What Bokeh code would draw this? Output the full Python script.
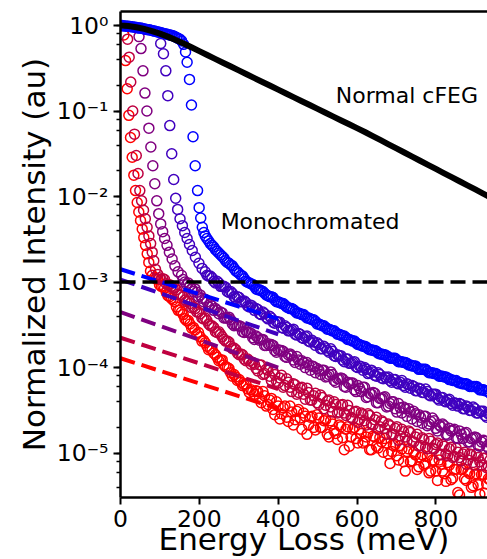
import numpy as np
from bokeh.plotting import figure
from bokeh.models import (Range1d, LinearAxis, Label, CustomJSTickFormatter,
                          FixedTicker, LogTicker)
from bokeh.embed import file_html
from bokeh.resources import INLINE

# ---------------- data (energies in meV, intensities as log10) ----------------
E_TAIL = [round(86.0 + 4.3 * j, 1) for j in range(199)]   # spectrum sampling grid of the tails

RED_PEAK_E = [8.5, 12.8, 17.0, 21.2, 25.4, 29.7, 33.8, 38.1, 42.4, 46.4, 50.8,
              55.1, 59.1, 63.5, 67.8, 71.8, 76.1, 80.5]
RED_PEAK_LOG10 = [-0.11, -0.41, -0.74, -1.05, -1.31, -1.54, -1.75, -1.93, -2.07,
                  -2.18, -2.28, -2.38, -2.48, -2.57, -2.67, -2.77, -2.87, -2.92]
RED_TAIL_LOG10 = [
    -2.95, -2.96, -2.97, -3.03, -3.05, -3.05, -3.07, -3.12, -3.16, -3.17,
    -3.19, -3.21, -3.23, -3.29, -3.33, -3.33, -3.35, -3.38, -3.43, -3.45,
    -3.45, -3.49, -3.54, -3.53, -3.56, -3.61, -3.59, -3.64, -3.69, -3.68,
    -3.71, -3.75, -3.79, -3.78, -3.79, -3.83, -3.85, -3.88, -3.92, -3.91,
    -3.91, -3.97, -3.99, -4.00, -4.01, -4.06, -4.10, -4.08, -4.11, -4.15,
    -4.14, -4.17, -4.21, -4.20, -4.19, -4.25, -4.29, -4.26, -4.28, -4.31,
    -4.27, -4.28, -4.36, -4.41, -4.28, -4.33, -4.45, -4.43, -4.38, -4.36,
    -4.49, -4.55, -4.40, -4.45, -4.60, -4.54, -4.47, -4.45, -4.58, -4.63,
    -4.45, -4.52, -4.67, -4.61, -4.51, -4.49, -4.59, -4.72, -4.53, -4.57,
    -4.78, -4.67, -4.58, -4.57, -4.70, -4.73, -4.55, -4.59, -4.70, -4.70,
    -4.62, -4.61, -4.78, -4.81, -4.62, -4.66, -4.74, -4.77, -4.84, -4.67,
    -4.69, -4.82, -4.96, -4.72, -4.69, -4.92, -4.81, -4.72, -4.70, -4.83,
    -4.88, -4.72, -4.77, -4.88, -4.86, -4.81, -4.76, -4.96, -4.96, -4.80,
    -4.81, -4.92, -4.94, -4.82, -4.87, -4.99, -4.83, -4.88, -5.01, -5.12,
    -4.98, -4.91, -4.90, -5.03, -5.08, -4.91, -4.95, -5.10, -5.21, -4.98,
    -4.95, -5.10, -5.09, -4.99, -5.02, -5.19, -5.16, -5.05, -5.02, -5.14,
    -5.12, -5.04, -5.23, -5.21, -5.08, -5.09, -5.21, -5.32, -5.08, -5.13,
    -5.21, -5.24, -5.33, -5.11, -5.14, -5.31, -5.29, -5.19, -5.19, -5.46,
    -5.49, -5.19, -5.18, -5.30, -5.32, -5.22, -5.24, -5.40, -5.38, -5.25,
    -5.24, -5.37, -5.48, -5.25, -5.25, -5.47, -5.36, -5.30, -5.31]

CRIMSON_PEAK_E = [18.0, 22.0, 26.0, 31.0, 35.5, 40.0, 44.5, 49.0, 53.5, 58.5,
                  63.0, 67.5, 72.0, 76.5, 80.5, 84.5, 88.8]
CRIMSON_PEAK_LOG10 = [-0.16, -0.37, -0.66, -1.00, -1.27, -1.52, -1.73, -1.93,
                      -2.05, -2.16, -2.26, -2.36, -2.46, -2.55, -2.65, -2.75, -2.85]
CRIMSON_TAIL_LOG10 = [
    -2.91, -2.95, -2.97, -2.96, -2.97, -3.02, -3.03, -3.03, -3.05, -3.07,
    -3.06, -3.09, -3.14, -3.15, -3.15, -3.17, -3.21, -3.23, -3.22, -3.25,
    -3.30, -3.29, -3.31, -3.35, -3.35, -3.37, -3.42, -3.43, -3.42, -3.45,
    -3.49, -3.51, -3.51, -3.53, -3.58, -3.59, -3.58, -3.61, -3.64, -3.67,
    -3.69, -3.69, -3.70, -3.75, -3.78, -3.77, -3.79, -3.83, -3.85, -3.84,
    -3.85, -3.90, -3.92, -3.90, -3.92, -3.96, -3.94, -3.96, -4.01, -4.04,
    -3.97, -3.97, -4.08, -4.07, -4.02, -4.03, -4.10, -4.15, -4.04, -4.08,
    -4.16, -4.18, -4.12, -4.09, -4.23, -4.21, -4.13, -4.17, -4.23, -4.28,
    -4.19, -4.20, -4.31, -4.29, -4.24, -4.23, -4.31, -4.37, -4.24, -4.29,
    -4.38, -4.38, -4.33, -4.30, -4.41, -4.43, -4.32, -4.35, -4.48, -4.44,
    -4.39, -4.38, -4.46, -4.52, -4.40, -4.43, -4.53, -4.52, -4.44, -4.43,
    -4.53, -4.56, -4.44, -4.50, -4.58, -4.60, -4.52, -4.51, -4.64, -4.61,
    -4.53, -4.55, -4.62, -4.67, -4.54, -4.56, -4.66, -4.67, -4.61, -4.58,
    -4.72, -4.69, -4.62, -4.64, -4.71, -4.78, -4.66, -4.68, -4.78, -4.78,
    -4.71, -4.69, -4.85, -4.80, -4.72, -4.75, -4.81, -4.86, -4.74, -4.76,
    -4.86, -4.87, -4.81, -4.78, -4.92, -4.91, -4.82, -4.84, -4.93, -4.95,
    -4.83, -4.86, -4.94, -4.95, -4.90, -4.88, -5.02, -5.02, -4.90, -4.92,
    -5.01, -5.03, -4.95, -4.93, -5.05, -5.04, -4.94, -4.99, -5.05, -5.09,
    -5.01, -4.99, -5.13, -5.08, -5.01, -5.02, -5.11, -5.14, -5.01, -5.05,
    -5.10, -5.14, -5.06, -5.06, -5.17, -5.15, -5.08]

PURPLE_PEAK_E = [47, 52, 57, 62, 67, 72, 77, 82, 87, 92, 97, 102, 107, 112,
                 118, 124, 131, 138, 146]
PURPLE_PEAK_LOG10 = [-0.13, -0.27, -0.53, -0.79, -1.00, -1.20, -1.42, -1.64,
                     -1.85, -2.05, -2.20, -2.32, -2.41, -2.49, -2.57, -2.65,
                     -2.73, -2.81, -2.88]
PURPLE_TAIL_LOG10 = [
    -2.92, -2.97, -3.00, -3.03, -3.01, -3.04, -3.08, -3.11, -3.08, -3.12,
    -3.17, -3.15, -3.19, -3.23, -3.20, -3.23, -3.29, -3.26, -3.28, -3.33,
    -3.31, -3.33, -3.37, -3.35, -3.36, -3.42, -3.42, -3.42, -3.41, -3.44,
    -3.49, -3.51, -3.50, -3.51, -3.51, -3.52, -3.58, -3.59, -3.57, -3.59,
    -3.59, -3.60, -3.65, -3.67, -3.63, -3.65, -3.68, -3.67, -3.67, -3.74,
    -3.74, -3.72, -3.74, -3.73, -3.74, -3.80, -3.82, -3.79, -3.80, -3.80,
    -3.81, -3.87, -3.88, -3.85, -3.84, -3.86, -3.91, -3.94, -3.87, -3.91,
    -3.96, -3.92, -3.94, -4.00, -3.94, -3.97, -4.03, -3.98, -3.99, -4.06,
    -4.01, -4.03, -4.08, -4.03, -4.03, -4.11, -4.10, -4.08, -4.05, -4.08,
    -4.15, -4.17, -4.13, -4.13, -4.12, -4.13, -4.22, -4.23, -4.17, -4.19,
    -4.18, -4.18, -4.26, -4.28, -4.21, -4.24, -4.28, -4.23, -4.23, -4.35,
    -4.34, -4.30, -4.31, -4.29, -4.30, -4.41, -4.41, -4.36, -4.36, -4.35,
    -4.34, -4.46, -4.45, -4.42, -4.40, -4.40, -4.48, -4.52, -4.42, -4.47,
    -4.53, -4.46, -4.48, -4.57, -4.48, -4.52, -4.60, -4.51, -4.54, -4.63,
    -4.55, -4.58, -4.65, -4.57, -4.57, -4.68, -4.66, -4.63, -4.59, -4.62,
    -4.71, -4.74, -4.67, -4.69, -4.66, -4.68, -4.78, -4.79, -4.71, -4.74,
    -4.73, -4.72, -4.82, -4.83, -4.74, -4.78, -4.83, -4.77, -4.76, -4.87,
    -4.87, -4.83, -4.82, -4.81, -4.82, -4.91, -4.92, -4.87, -4.85, -4.86,
    -4.92, -4.94, -4.88]

INDIGO_PEAK_E = [102, 109, 115, 120, 125, 130, 135, 140, 145, 151, 157, 163,
                 169, 175, 182, 190, 199, 207]
INDIGO_PEAK_LOG10 = [-0.21, -0.33, -0.53, -0.82, -1.17, -1.50, -1.80, -2.02,
                     -2.15, -2.26, -2.34, -2.42, -2.49, -2.56, -2.63, -2.71,
                     -2.78, -2.84]
INDIGO_TAIL_LOG10 = [
    -2.88, -2.92, -2.93, -2.93, -2.95, -2.99, -3.01, -2.99, -3.01, -3.05,
    -3.05, -3.05, -3.06, -3.11, -3.12, -3.11, -3.13, -3.17, -3.19, -3.17,
    -3.18, -3.23, -3.23, -3.22, -3.24, -3.28, -3.29, -3.27, -3.29, -3.33,
    -3.31, -3.32, -3.37, -3.38, -3.35, -3.37, -3.41, -3.43, -3.40, -3.42,
    -3.47, -3.48, -3.46, -3.47, -3.47, -3.53, -3.54, -3.51, -3.53, -3.57,
    -3.57, -3.56, -3.55, -3.61, -3.62, -3.60, -3.61, -3.65, -3.66, -3.64,
    -3.63, -3.69, -3.70, -3.68, -3.70, -3.74, -3.71, -3.73, -3.78, -3.78,
    -3.75, -3.77, -3.80, -3.82, -3.78, -3.81, -3.86, -3.87, -3.85, -3.86,
    -3.86, -3.91, -3.93, -3.90, -3.90, -3.95, -3.95, -3.94, -3.93, -3.99,
    -4.00, -3.98, -3.99, -4.03, -4.00, -4.02, -4.07, -4.06, -4.03, -4.05,
    -4.09, -4.10, -4.06, -4.08, -4.12, -4.13, -4.11, -4.12, -4.11, -4.15,
    -4.17, -4.14, -4.14, -4.18, -4.19, -4.17, -4.15, -4.21, -4.23, -4.19,
    -4.20, -4.24, -4.21, -4.22, -4.27, -4.27, -4.24, -4.25, -4.29, -4.29,
    -4.25, -4.28, -4.32, -4.33, -4.31, -4.31, -4.31, -4.36, -4.38, -4.35,
    -4.35, -4.39, -4.40, -4.38, -4.37, -4.42, -4.44, -4.41, -4.42, -4.45,
    -4.42, -4.43, -4.48, -4.48, -4.45, -4.46, -4.50, -4.50, -4.46, -4.48,
    -4.53, -4.53, -4.51, -4.51, -4.51, -4.56, -4.58, -4.54, -4.54]

BLUE_PEAK_E = [0.0, 4.3, 8.6, 12.9, 17.2, 21.5, 25.8, 30.1, 34.4, 38.7, 43.0,
               47.3, 51.6, 55.9, 60.2, 64.5, 68.8, 73.1, 77.4, 81.7, 86.0, 90.3,
               94.6, 98.9, 103.2, 107.5, 111.8, 116.1, 120.4, 124.7, 129.0,
               133.3, 137.6, 141.9, 146.2, 150.5, 155, 160, 165, 169, 175, 180,
               184, 189.5, 195.5, 199.5, 203.5, 207.5, 211.5]
BLUE_PEAK_LOG10 = [0.0, 0.0, -0.005, -0.005, -0.01, -0.01, -0.015, -0.015,
                   -0.02, -0.02, -0.025, -0.03, -0.03, -0.035, -0.04, -0.045,
                   -0.05, -0.05, -0.055, -0.06, -0.065, -0.07, -0.075, -0.08,
                   -0.085, -0.09, -0.095, -0.10, -0.105, -0.11, -0.115, -0.12,
                   -0.13, -0.14, -0.15, -0.16, -0.18, -0.22, -0.31, -0.43,
                   -0.63, -0.93, -1.30, -1.64, -1.93, -2.13, -2.25, -2.36, -2.42]
BLUE_TAIL_LOG10 = [
    -2.46, -2.49, -2.52, -2.55, -2.57, -2.59, -2.62, -2.64, -2.66, -2.68,
    -2.70, -2.72, -2.75, -2.77, -2.78, -2.80, -2.81, -2.84, -2.87, -2.88,
    -2.90, -2.92, -2.93, -2.96, -2.99, -3.00, -3.01, -3.02, -3.03, -3.05,
    -3.08, -3.09, -3.09, -3.10, -3.11, -3.13, -3.15, -3.16, -3.17, -3.17,
    -3.18, -3.21, -3.23, -3.23, -3.24, -3.25, -3.25, -3.27, -3.29, -3.30,
    -3.31, -3.31, -3.32, -3.34, -3.36, -3.36, -3.37, -3.38, -3.38, -3.40,
    -3.42, -3.42, -3.43, -3.44, -3.44, -3.46, -3.49, -3.49, -3.50, -3.51,
    -3.51, -3.53, -3.55, -3.55, -3.56, -3.57, -3.57, -3.59, -3.61, -3.61,
    -3.62, -3.63, -3.63, -3.65, -3.67, -3.67, -3.68, -3.69, -3.69, -3.71,
    -3.73, -3.73, -3.74, -3.75, -3.75, -3.76, -3.78, -3.79, -3.79, -3.80,
    -3.80, -3.81, -3.83, -3.84, -3.84, -3.85, -3.85, -3.86, -3.88, -3.89,
    -3.89, -3.89, -3.89, -3.91, -3.93, -3.93, -3.93, -3.94, -3.94, -3.95,
    -3.97, -3.97, -3.98, -3.98, -3.98, -4.00, -4.02, -4.02, -4.02, -4.02,
    -4.02, -4.04, -4.06, -4.06, -4.06, -4.07, -4.07, -4.08, -4.10, -4.10,
    -4.10, -4.11, -4.11, -4.12, -4.14, -4.14, -4.15, -4.15, -4.15, -4.17,
    -4.18, -4.18, -4.19, -4.19, -4.19, -4.20, -4.22, -4.22, -4.22, -4.22,
    -4.22, -4.24, -4.26, -4.26, -4.26, -4.27, -4.27, -4.28, -4.30]

NORMAL_E = [0, 20, 40, 60, 80, 100, 120, 140, 160, 180, 200, 220, 240, 260, 280,
            300, 320, 340, 360, 380, 400, 420, 440, 460, 480, 500, 520, 540, 560,
            580, 600, 620, 640, 660, 680, 700, 720, 740, 760, 780, 800, 820, 840,
            860, 880, 900, 920, 940]
NORMAL_LOG10 = [0.0, -0.005, -0.02, -0.04, -0.065, -0.095, -0.13, -0.17, -0.21,
                -0.255, -0.30, -0.345, -0.39, -0.435, -0.48, -0.525, -0.57,
                -0.615, -0.66, -0.705, -0.75, -0.795, -0.84, -0.885, -0.93,
                -0.975, -1.02, -1.065, -1.11, -1.155, -1.20, -1.245, -1.293,
                -1.341, -1.389, -1.437, -1.485, -1.533, -1.581, -1.629, -1.677,
                -1.725, -1.773, -1.821, -1.869, -1.917, -1.965, -2.013]

FIT_E = [0, 400]
FIT_LOG10 = {
    "blue":    [-2.85, -3.43],
    "indigo":  [-2.97, -3.61],
    "purple":  [-3.35, -4.00],
    "crimson": [-3.65, -4.25],
    "red":     [-3.89, -4.48],
}
THRESHOLD = 1e-3

COLORS = {"red": "#ff0000", "crimson": "#bf0040", "purple": "#800080",
          "indigo": "#4000bf", "blue": "#0000ff"}

SERIES = [
    ("red", RED_PEAK_E, RED_PEAK_LOG10, RED_TAIL_LOG10),
    ("crimson", CRIMSON_PEAK_E, CRIMSON_PEAK_LOG10, CRIMSON_TAIL_LOG10),
    ("purple", PURPLE_PEAK_E, PURPLE_PEAK_LOG10, PURPLE_TAIL_LOG10),
    ("indigo", INDIGO_PEAK_E, INDIGO_PEAK_LOG10, INDIGO_TAIL_LOG10),
    ("blue", BLUE_PEAK_E, BLUE_PEAK_LOG10, BLUE_TAIL_LOG10),
]

FONT = "DejaVu Sans"

# ---------------- figure ----------------
p = figure(width=487, height=559, x_range=Range1d(0, 931),
           y_range=Range1d(3.03e-6, 1.458), y_axis_type="log",
           output_backend="svg", toolbar_location=None,
           min_border_left=120, min_border_right=0, min_border_top=11,
           min_border_bottom=62)
p.outline_line_color = None
p.grid.visible = False
p.background_fill_color = "white"
p.border_fill_color = "white"

for name, pe, pl, tl in SERIES:
    xs = list(pe) + E_TAIL[len(E_TAIL) - len(tl):]
    ys = [10 ** v for v in list(pl) + list(tl)]
    p.scatter(xs, ys, marker="circle", size=10, fill_color=None,
              line_color=COLORS[name], line_width=1.5)

for name in ["blue", "indigo", "purple", "crimson", "red"]:
    p.line(FIT_E, [10 ** v for v in FIT_LOG10[name]], line_color=COLORS[name],
           line_width=4, line_dash="15 7")

p.line([0, 931], [THRESHOLD, THRESHOLD], line_color="black", line_width=3.5,
       line_dash="15 7")
p.line(NORMAL_E, [10 ** v for v in NORMAL_LOG10], line_color="black",
       line_width=6)

p.add_layout(Label(x=546, y=0.153, text="Normal cFEG", text_font=FONT,
                   text_font_size="22px", text_color="black",
                   text_baseline="alphabetic"))
p.add_layout(Label(x=254, y=5.06e-3, text="Monochromated", text_font=FONT,
                   text_font_size="22px", text_color="black",
                   text_baseline="alphabetic"))

# axes styling
for ax in (p.xaxis[0], p.yaxis[0]):
    ax.axis_line_width = 2.5
    ax.axis_line_color = "black"
    ax.major_tick_line_width = 2
    ax.major_tick_line_color = "black"
    ax.major_tick_out = 7
    ax.major_tick_in = 0
    ax.minor_tick_line_width = 1.5
    ax.minor_tick_line_color = "black"
    ax.minor_tick_out = 4
    ax.minor_tick_in = 0
    ax.major_label_text_font = FONT
    ax.major_label_text_font_size = "23.5px"
    ax.major_label_text_color = "black"
    ax.axis_label_text_font = FONT
    ax.axis_label_text_font_size = "31px"
    ax.axis_label_text_font_style = "normal"
    ax.axis_label_text_color = "black"

p.xaxis.ticker = FixedTicker(ticks=[0, 200, 400, 600, 800])
p.xaxis.minor_tick_line_color = None
p.xaxis.axis_label = "Energy Loss (meV)"
p.xaxis.major_label_standoff = 5
p.xaxis.axis_label_standoff = -9

p.yaxis.ticker = LogTicker(desired_num_ticks=6)
p.yaxis.formatter = CustomJSTickFormatter(code="""
const e = Math.round(Math.log10(tick));
const sup = {'-': '\u207b', '0': '\u2070', '1': '\u00b9', '2': '\u00b2', '3': '\u00b3',
             '4': '\u2074', '5': '\u2075', '6': '\u2076', '7': '\u2077', '8': '\u2078', '9': '\u2079'};
return '10' + String(e).split('').map(c => sup[c]).join('');
""")
p.yaxis.axis_label = "Normalized Intensity (au)"
p.yaxis.major_label_standoff = 5
p.yaxis.axis_label_standoff = 2

top = LinearAxis(ticker=FixedTicker(ticks=[]), axis_line_width=2.5,
                 axis_line_color="black", major_label_text_font_size="0px",
                 major_tick_line_color=None, minor_tick_line_color=None,
                 major_label_standoff=0, axis_label_standoff=0)
p.add_layout(top, "above")

open("out.html", "w").write(file_html(p, INLINE))
